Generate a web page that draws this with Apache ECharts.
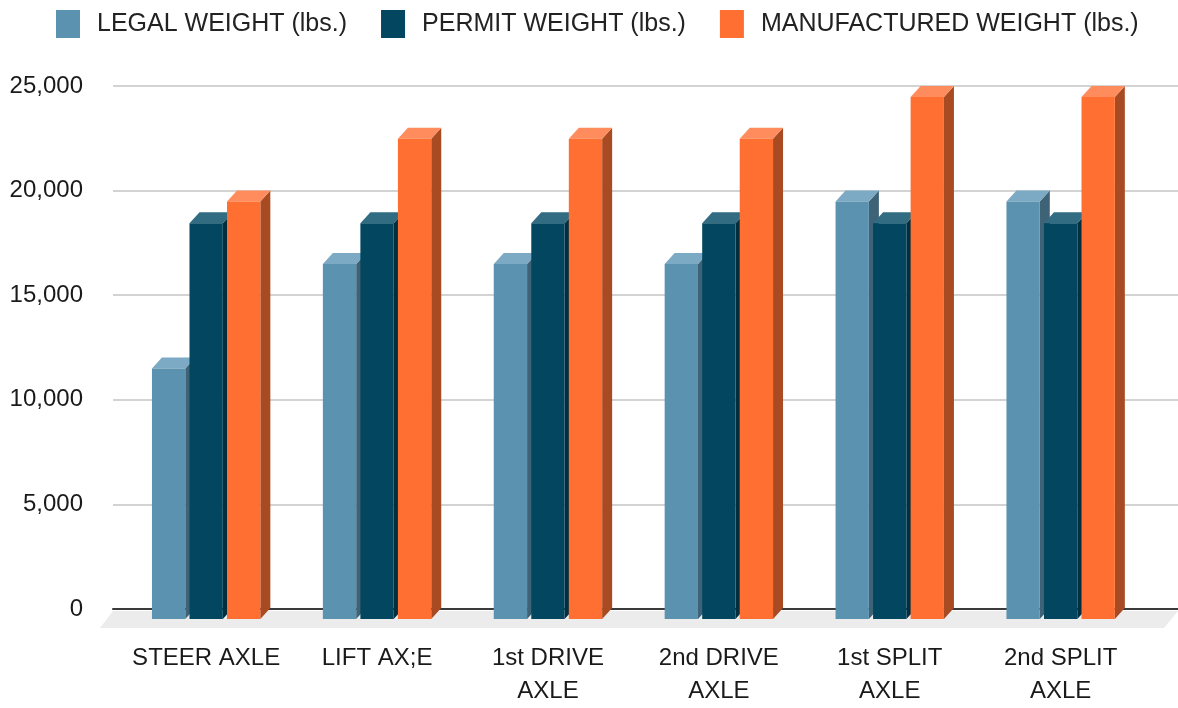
<!DOCTYPE html>
<html>
<head>
<meta charset="utf-8">
<script src="https://cdn.jsdelivr.net/npm/echarts@6/dist/echarts.min.js"></script>
<style>
html,body{margin:0;padding:0;background:#fff;}
#main{width:1178px;height:708px;}
</style>
</head>
<body>
<div id="main"></div>
<script>
// ---- data ----
const categories = ['STEER AXLE', 'LIFT AX;E', '1st DRIVE\nAXLE', '2nd DRIVE\nAXLE', '1st SPLIT\nAXLE', '2nd SPLIT\nAXLE'];
const seriesNames = ['LEGAL WEIGHT (lbs.)', 'PERMIT WEIGHT (lbs.)', 'MANUFACTURED WEIGHT (lbs.)'];
const legalWeight = [12000, 17000, 17000, 17000, 20000, 20000];
const permitWeight = [18950, 18950, 18950, 18950, 18950, 18950];
const manufacturedWeight = [20000, 23000, 23000, 23000, 25000, 25000];
const yMin = 0, yMax = 25000, yInterval = 5000;

// ---- styles ----
const FONT = "'Liberation Sans', Arial, sans-serif";
const palette = [
  {front: '#5b92b0', top: '#7ca9c3', side: '#3e6276'},
  {front: '#03465f', top: '#316c82', side: '#012f40'},
  {front: '#ff6f31', top: '#ff8c5c', side: '#a94b22'}
];
const DX = 10, DY = 11;
const GRID_TOP = 86, GRID_BOTTOM = 99;

const chart = echarts.init(document.getElementById('main'));

function makeRender(idx) {
  return function (params, api) {
    const cat = api.value(0), val = api.value(1);
    const p = api.coord([cat, val]);
    const p0 = api.coord([cat, 0]);
    const bandW = api.size([1, 0])[0];
    const barW = bandW * 0.195, gap = bandW * 0.0246;
    const groupW = 3 * barW + 2 * gap;
    const x1 = p[0] - groupW / 2 + idx * (barW + gap);
    const x2 = x1 + barW;
    const yTop = p[1] + DY, yBot = p0[1] + DY;
    const c = palette[idx];
    return {
      type: 'group',
      children: [
        {type: 'polygon', shape: {points: [[x2, yTop], [x2 + DX, yTop - DY], [x2 + DX, yBot - DY], [x2, yBot]]}, style: {fill: c.side}},
        {type: 'polygon', shape: {points: [[x1, yTop], [x2, yTop], [x2 + DX, yTop - DY], [x1 + DX, yTop - DY]]}, style: {fill: c.top}},
        {type: 'rect', shape: {x: x1, y: yTop, width: barW, height: yBot - yTop}, style: {fill: c.front}}
      ]
    };
  };
}

const dataSets = [legalWeight, permitWeight, manufacturedWeight];
const series = dataSets.map((arr, idx) => ({
  type: 'custom',
  name: seriesNames[idx],
  xAxisIndex: 0,
  yAxisIndex: 0,
  z: 5,
  itemStyle: {color: palette[idx].front},
  renderItem: makeRender(idx),
  encode: {x: 0, y: 1},
  data: arr.map((v, i) => [i, v])
}));

const option = {
  animation: false,
  backgroundColor: '#ffffff',
  textStyle: {fontFamily: FONT},
  legend: {
    left: 56, top: 10, right: 0, padding: 0,
    itemWidth: 24, itemHeight: 28, itemGap: 34,
    icon: 'rect',
    textStyle: {fontSize: 25, color: '#222', fontFamily: FONT, padding: [0, 0, 0, 12]},
    data: seriesNames
  },
  grid: [
    {left: 120.7, right: 31.9, top: GRID_TOP, bottom: GRID_BOTTOM},
    {left: 113, right: 0, top: GRID_TOP, bottom: GRID_BOTTOM}
  ],
  xAxis: [
    {type: 'category', gridIndex: 0, data: categories,
     axisLine: {show: false}, axisTick: {show: false}, splitLine: {show: false},
     axisLabel: {fontSize: 24, lineHeight: 33, color: '#1a1a1a', margin: 34, fontFamily: FONT, interval: 0}},
    {type: 'category', gridIndex: 1, data: categories, z: 3,
     axisLine: {show: true, lineStyle: {color: '#3a3a3a', width: 2}}, axisTick: {show: false},
     axisLabel: {show: false}, splitLine: {show: false}}
  ],
  yAxis: [
    {type: 'value', gridIndex: 0, min: yMin, max: yMax, interval: yInterval, show: false, splitLine: {show: false}},
    {type: 'value', gridIndex: 1, min: yMin, max: yMax, interval: yInterval,
     axisLine: {show: false}, axisTick: {show: false},
     axisLabel: {fontSize: 24, color: '#1a1a1a', margin: 30, fontFamily: FONT,
                 formatter: v => v.toLocaleString('en-US')},
     splitLine: {lineStyle: {color: '#d3d3d3', width: 2}}}
  ],
  series: series
};
chart.setOption(option);

// floor (light grey band under the bars), derived from the grid layout
const y0 = chart.convertToPixel({yAxisIndex: 1}, 0);
const gl = 113, gr = 1178;
chart.setOption({
  graphic: [{
    type: 'polygon', z: 1, silent: true,
    shape: {points: [[gl, y0 + 2], [gr, y0 + 2], [gr - 14, y0 + 19], [gl - 13, y0 + 19]]},
    style: {fill: '#ececec'}
  }]
});
</script>
</body>
</html>
